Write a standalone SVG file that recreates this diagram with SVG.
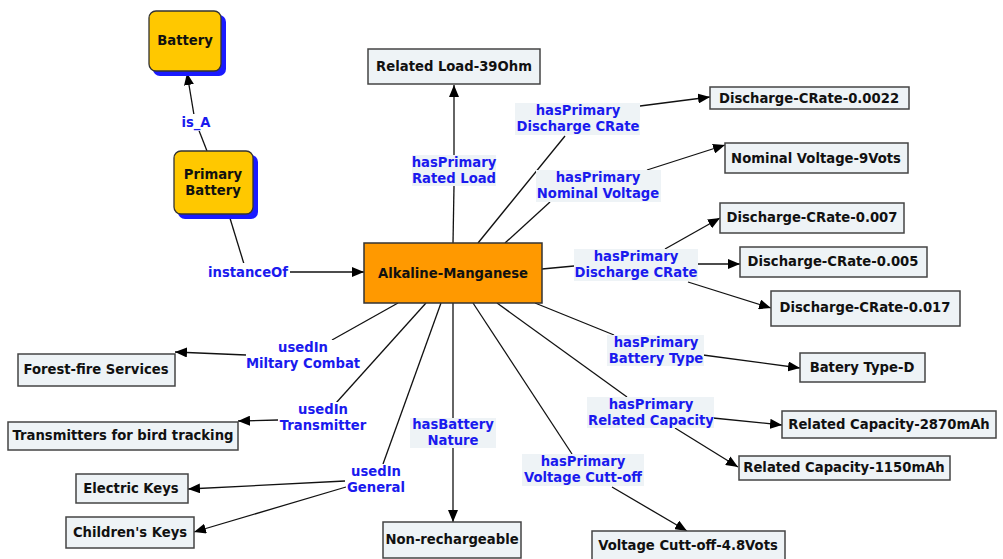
<svg xmlns="http://www.w3.org/2000/svg" width="1003" height="559" viewBox="0 0 1003 559">
<style>
text{font-family:"DejaVu Sans","Verdana",sans-serif;font-weight:bold;font-size:13.2px;text-anchor:middle}
.n{fill:#eef3f6;stroke:#444;stroke-width:1.5}
.nt{fill:#111}
.lb{fill:#eef3f6}
.lt{fill:#1a1aee}
.c{stroke:#111;stroke-width:1.3;fill:none}
.a{marker-end:url(#arr)}
.sh{fill:#1a1aff}
.y{fill:#ffc800;stroke:#333;stroke-width:1.3}
</style>
<defs>
<marker id="arr" viewBox="0 0 12 10" refX="12" refY="5" markerWidth="12" markerHeight="10" orient="auto" markerUnits="userSpaceOnUse"><path d="M0,0 L12,5 L0,10 z" fill="#000"/></marker>
</defs>
<rect width="1003" height="559" fill="#fff"/>
<g id="connectors">
<path class="c" d="M207,151 L198,128"/>
<path class="c a" d="M194,115 L187,73"/>
<path class="c" d="M229,215 L244,264"/>
<path class="c a" d="M290,272 L364,272"/>
<path class="c" d="M453,243 L454,186"/>
<path class="c a" d="M454,155 L454,85"/>
<path class="c" d="M478,243 L565,136"/>
<path class="c a" d="M640,106 L710,97"/>
<path class="c" d="M505,243 L550,202"/>
<path class="c a" d="M647,170 L725,145"/>
<path class="c" d="M542,269 L574,266"/>
<path class="c a" d="M665,249 L720,218"/>
<path class="c a" d="M697,264 L740,264"/>
<path class="c a" d="M688,282 L771,308"/>
<path class="c" d="M535,303 L614,335"/>
<path class="c a" d="M703,355 L800,368"/>
<path class="c" d="M497,303 L627,397"/>
<path class="c a" d="M713,418 L782,425"/>
<path class="c a" d="M675,428 L738,467"/>
<path class="c" d="M473,303 L572,454"/>
<path class="c a" d="M612,487 L687,531"/>
<path class="c" d="M453,303 L453,418"/>
<path class="c a" d="M453,447 L453,522"/>
<path class="c" d="M441,303 L383,464"/>
<path class="c a" d="M345,481 L188,489"/>
<path class="c a" d="M346,487 L194,532"/>
<path class="c" d="M426,303 L336,403"/>
<path class="c a" d="M278,420 L238,421"/>
<path class="c" d="M398,303 L332,340"/>
<path class="c a" d="M246,355 L175,352"/>
</g>
<g id="labels">
<g><rect x="180" y="114" width="32" height="17" fill="#fff"/><text class="lt" x="196" y="127">is_A</text></g>
<g><rect x="206" y="263" width="84" height="17" fill="#fff"/><text class="lt" x="248" y="277">instanceOf</text></g>
<g><rect class="lb" x="412" y="155" width="84" height="31"/><text class="lt" x="454" y="167">hasPrimary</text><text class="lt" x="454" y="183">Rated Load</text></g>
<g><rect class="lb" x="515" y="103" width="125" height="32"/><text class="lt" x="578" y="115">hasPrimary</text><text class="lt" x="578" y="131">Discharge CRate</text></g>
<g><rect class="lb" x="536" y="170" width="125" height="32"/><text class="lt" x="598" y="182">hasPrimary</text><text class="lt" x="598" y="198">Nominal Voltage</text></g>
<g><rect class="lb" x="574" y="249" width="124" height="32"/><text class="lt" x="636" y="261">hasPrimary</text><text class="lt" x="636" y="277">Discharge CRate</text></g>
<g><rect x="246" y="340" width="114" height="32" fill="#fff"/><text class="lt" x="303" y="352">usedIn</text><text class="lt" x="303" y="368">Miltary Combat</text></g>
<g><rect x="278" y="402" width="90" height="32" fill="#fff"/><text class="lt" x="323" y="414">usedIn</text><text class="lt" x="323" y="430">Transmitter</text></g>
<g><rect x="346" y="464" width="60" height="32" fill="#fff"/><text class="lt" x="376" y="476">usedIn</text><text class="lt" x="376" y="492">General</text></g>
<g><rect class="lb" x="410" y="418" width="86" height="30"/><text class="lt" x="453" y="429">hasBattery</text><text class="lt" x="453" y="445">Nature</text></g>
<g><rect class="lb" x="522" y="454" width="122" height="32"/><text class="lt" x="583" y="466">hasPrimary</text><text class="lt" x="583" y="482">Voltage Cutt-off</text></g>
<g><rect class="lb" x="607" y="335" width="97" height="31"/><text class="lt" x="656" y="347">hasPrimary</text><text class="lt" x="656" y="363">Battery Type</text></g>
<g><rect class="lb" x="587" y="397" width="127" height="31"/><text class="lt" x="651" y="409">hasPrimary</text><text class="lt" x="651" y="425">Related Capacity</text></g>
</g>
<g id="battery"><rect class="sh" x="153" y="15" width="73" height="61" rx="7"/><rect class="y" x="149" y="11" width="72" height="60" rx="7"/><text class="nt" x="185" y="45">Battery</text></g>
<g id="primary-battery"><rect class="sh" x="178" y="155" width="80" height="64" rx="7"/><rect class="y" x="174" y="151" width="79" height="63" rx="7"/><text class="nt" x="213" y="179">Primary</text><text class="nt" x="213" y="195">Battery</text></g>
<g id="alkaline"><rect x="364" y="243" width="178" height="60" fill="#ff9900" stroke="#333" stroke-width="1.5"/><text class="nt" x="453" y="278">Alkaline-Manganese</text></g>
<g id="related-load"><rect class="n" x="368" y="49" width="172" height="35"/><text class="nt" x="454" y="71">Related Load-39Ohm</text></g>
<g id="dc-0022"><rect class="n" x="710" y="87" width="199" height="22"/><text class="nt" x="809" y="103">Discharge-CRate-0.0022</text></g>
<g id="nominal-voltage"><rect class="n" x="725" y="143" width="183" height="30"/><text class="nt" x="816" y="163">Nominal Voltage-9Vots</text></g>
<g id="dc-007"><rect class="n" x="720" y="203" width="184" height="30"/><text class="nt" x="812" y="222">Discharge-CRate-0.007</text></g>
<g id="dc-005"><rect class="n" x="740" y="247" width="187" height="30"/><text class="nt" x="833" y="266">Discharge-CRate-0.005</text></g>
<g id="dc-017"><rect class="n" x="771" y="291" width="189" height="35"/><text class="nt" x="865" y="312">Discharge-CRate-0.017</text></g>
<g id="battery-type"><rect class="n" x="800" y="353" width="125" height="29"/><text class="nt" x="862" y="372">Batery Type-D</text></g>
<g id="cap-2870"><rect class="n" x="782" y="411" width="214" height="27"/><text class="nt" x="889" y="429">Related Capacity-2870mAh</text></g>
<g id="cap-1150"><rect class="n" x="739" y="456" width="211" height="24"/><text class="nt" x="844" y="472">Related Capacity-1150mAh</text></g>
<g id="voltage-cutoff"><rect class="n" x="592" y="531" width="193" height="30"/><text class="nt" x="688" y="550">Voltage Cutt-off-4.8Vots</text></g>
<g id="non-rechargeable"><rect class="n" x="383" y="522" width="138" height="36"/><text class="nt" x="452" y="544">Non-rechargeable</text></g>
<g id="forest-fire"><rect class="n" x="18" y="354" width="157" height="32"/><text class="nt" x="96" y="374">Forest-fire Services</text></g>
<g id="transmitters"><rect class="n" x="8" y="422" width="230" height="28"/><text class="nt" x="123" y="440">Transmitters for bird tracking</text></g>
<g id="electric-keys"><rect class="n" x="76" y="474" width="112" height="29"/><text class="nt" x="131" y="493">Electric Keys</text></g>
<g id="childrens-keys"><rect class="n" x="66" y="517" width="128" height="31"/><text class="nt" x="130" y="537">Children's Keys</text></g>
</svg>
